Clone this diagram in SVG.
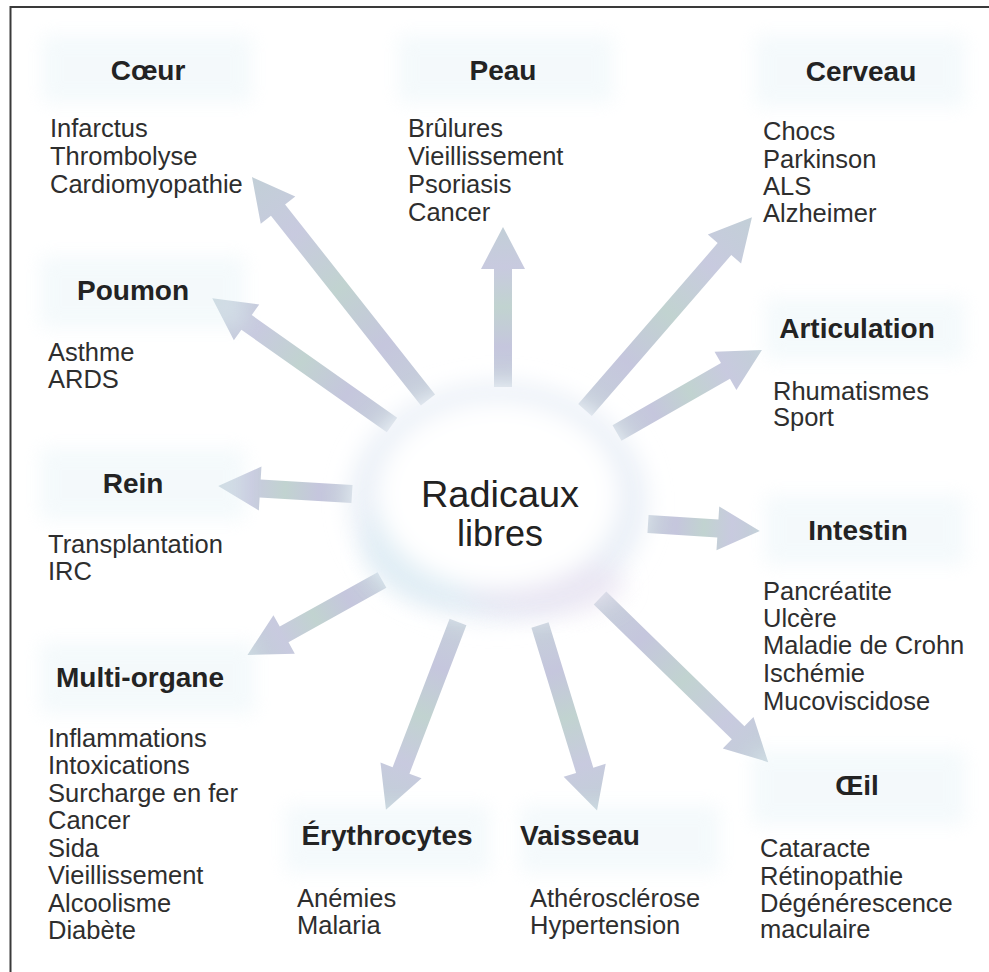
<svg xmlns="http://www.w3.org/2000/svg" width="989" height="972" viewBox="0 0 989 972">
<style>
.t{font-family:"Liberation Sans",Arial,sans-serif;font-weight:bold;font-size:28px;fill:#232323;text-anchor:middle}
.i{font-family:"Liberation Sans",Arial,sans-serif;font-size:25.5px;fill:#2e2e2e}
.c{font-family:"Liberation Sans",Arial,sans-serif;font-size:36px;fill:#222;text-anchor:middle}
.patch{fill:#e4f2f7;opacity:0.4;filter:url(#soft)}
.arrow{fill:url(#ag)}
</style>
<defs>
<filter id="soft" x="-20%" y="-40%" width="140%" height="180%"><feGaussianBlur stdDeviation="9"/></filter>
<filter id="glow" x="-30%" y="-30%" width="160%" height="160%"><feGaussianBlur stdDeviation="12"/></filter>
<linearGradient id="ag" x1="0" y1="0" x2="1" y2="0">
<stop offset="0" stop-color="#c6d0da"/>
<stop offset="0.25" stop-color="#c5c6dd"/>
<stop offset="0.5" stop-color="#c1d3d0"/>
<stop offset="0.75" stop-color="#c8cadf"/>
<stop offset="1" stop-color="#c2cfd7"/>
</linearGradient>
</defs>
<rect width="989" height="972" fill="#ffffff"/>
<polyline points="10.5,972 10.5,7 989,7" fill="none" stroke="#3a3a3a" stroke-width="2"/>

<g id="connectors">
<path class="arrow" transform="translate(428,400) rotate(-128.3)" d="M0,-9 L242,-9 L242,-22 L284,0 L242,22 L242,9 L0,9 Z"/>
<path class="arrow" transform="translate(392,425) rotate(-144.8)" d="M0,-9 L178,-9 L178,-22 L220,0 L178,22 L178,9 L0,9 Z"/>
<path class="arrow" transform="translate(503,387) rotate(-90)" d="M0,-9 L118,-9 L118,-22 L160,0 L118,22 L118,9 L0,9 Z"/>
<path class="arrow" transform="translate(585,410) rotate(-49.1)" d="M0,-9 L213,-9 L213,-22 L255,0 L213,22 L213,9 L0,9 Z"/>
<path class="arrow" transform="translate(617,433) rotate(-29.8)" d="M0,-9 L125,-9 L125,-22 L167,0 L125,22 L125,9 L0,9 Z"/>
<path class="arrow" transform="translate(648,524) rotate(3.6)" d="M0,-9 L70,-9 L70,-22 L112,0 L70,22 L70,9 L0,9 Z"/>
<path class="arrow" transform="translate(600,598) rotate(44.3)" d="M0,-9 L193,-9 L193,-22 L235,0 L193,22 L193,9 L0,9 Z"/>
<path class="arrow" transform="translate(540,625) rotate(72.9)" d="M0,-9 L152,-9 L152,-22 L194,0 L152,22 L152,9 L0,9 Z"/>
<path class="arrow" transform="translate(458,622) rotate(111)" d="M0,-9 L159,-9 L159,-22 L201,0 L159,22 L159,9 L0,9 Z"/>
<path class="arrow" transform="translate(382,580) rotate(150.9)" d="M0,-9 L112,-9 L112,-22 L154,0 L112,22 L112,9 L0,9 Z"/>
<path class="arrow" transform="translate(352,494) rotate(-176.6)" d="M0,-9 L92,-9 L92,-22 L134,0 L92,22 L92,9 L0,9 Z"/>
</g>

<g id="center">
<ellipse cx="498" cy="502" rx="148" ry="118" fill="#e9eff7" filter="url(#glow)"/>
<ellipse cx="455" cy="545" rx="90" ry="60" fill="#d8ebf3" opacity="0.6" filter="url(#glow)"/>
<ellipse cx="545" cy="585" rx="80" ry="30" fill="#e8e0f0" opacity="0.6" filter="url(#glow)"/>
<ellipse cx="498" cy="495" rx="122" ry="95" fill="#ffffff" filter="url(#glow)"/>
<ellipse cx="500" cy="495" rx="95" ry="70" fill="#ffffff"/>
<text class="c" x="500" y="507" textLength="158" lengthAdjust="spacingAndGlyphs">Radicaux</text>
<text class="c" x="500" y="546" textLength="86" lengthAdjust="spacingAndGlyphs">libres</text>
</g>

<g id="coeur">
<rect class="patch" x="42" y="35" width="210" height="68"/>
<text class="t" x="148" y="80">Cœur</text>
<text class="i" x="50" y="137">Infarctus</text>
<text class="i" x="50" y="165">Thrombolyse</text>
<text class="i" x="50" y="193">Cardiomyopathie</text>
</g>
<g id="peau">
<rect class="patch" x="398" y="35" width="215" height="68"/>
<text class="t" x="503" y="80">Peau</text>
<text class="i" x="408" y="137">Brûlures</text>
<text class="i" x="408" y="165">Vieillissement</text>
<text class="i" x="408" y="193">Psoriasis</text>
<text class="i" x="408" y="221">Cancer</text>
</g>
<g id="cerveau">
<rect class="patch" x="755" y="35" width="210" height="72"/>
<text class="t" x="861" y="81">Cerveau</text>
<text class="i" x="763" y="140">Chocs</text>
<text class="i" x="763" y="168">Parkinson</text>
<text class="i" x="763" y="195">ALS</text>
<text class="i" x="763" y="222">Alzheimer</text>
</g>
<g id="poumon">
<rect class="patch" x="40" y="256" width="205" height="72"/>
<text class="t" x="133" y="300">Poumon</text>
<text class="i" x="48" y="361">Asthme</text>
<text class="i" x="48" y="388">ARDS</text>
</g>
<g id="articulation">
<rect class="patch" x="765" y="298" width="200" height="62"/>
<text class="t" x="857" y="338">Articulation</text>
<text class="i" x="773" y="400">Rhumatismes</text>
<text class="i" x="773" y="426">Sport</text>
</g>
<g id="rein">
<rect class="patch" x="40" y="448" width="205" height="72"/>
<text class="t" x="133" y="493">Rein</text>
<text class="i" x="48" y="553">Transplantation</text>
<text class="i" x="48" y="580">IRC</text>
</g>
<g id="intestin">
<rect class="patch" x="765" y="495" width="200" height="70"/>
<text class="t" x="858" y="540">Intestin</text>
<text class="i" x="763" y="600">Pancréatite</text>
<text class="i" x="763" y="627">Ulcère</text>
<text class="i" x="763" y="654">Maladie de Crohn</text>
<text class="i" x="763" y="682">Ischémie</text>
<text class="i" x="763" y="710">Mucoviscidose</text>
</g>
<g id="multi-organe">
<rect class="patch" x="40" y="642" width="215" height="72"/>
<text class="t" x="140" y="687">Multi-organe</text>
<text class="i" x="48" y="747">Inflammations</text>
<text class="i" x="48" y="774">Intoxications</text>
<text class="i" x="48" y="802">Surcharge en fer</text>
<text class="i" x="48" y="829">Cancer</text>
<text class="i" x="48" y="857">Sida</text>
<text class="i" x="48" y="884">Vieillissement</text>
<text class="i" x="48" y="912">Alcoolisme</text>
<text class="i" x="48" y="939">Diabète</text>
</g>
<g id="erythrocytes">
<rect class="patch" x="285" y="805" width="205" height="68"/>
<text class="t" x="387" y="845">Érythrocytes</text>
<text class="i" x="297" y="907">Anémies</text>
<text class="i" x="297" y="934">Malaria</text>
</g>
<g id="vaisseau">
<rect class="patch" x="520" y="805" width="200" height="68"/>
<text class="t" x="580" y="845">Vaisseau</text>
<text class="i" x="530" y="907">Athérosclérose</text>
<text class="i" x="530" y="934">Hypertension</text>
</g>
<g id="oeil">
<rect class="patch" x="752" y="750" width="213" height="75"/>
<text class="t" x="857" y="795">Œil</text>
<text class="i" x="760" y="857">Cataracte</text>
<text class="i" x="760" y="885">Rétinopathie</text>
<text class="i" x="760" y="912">Dégénérescence</text>
<text class="i" x="760" y="938">maculaire</text>
</g>
</svg>
